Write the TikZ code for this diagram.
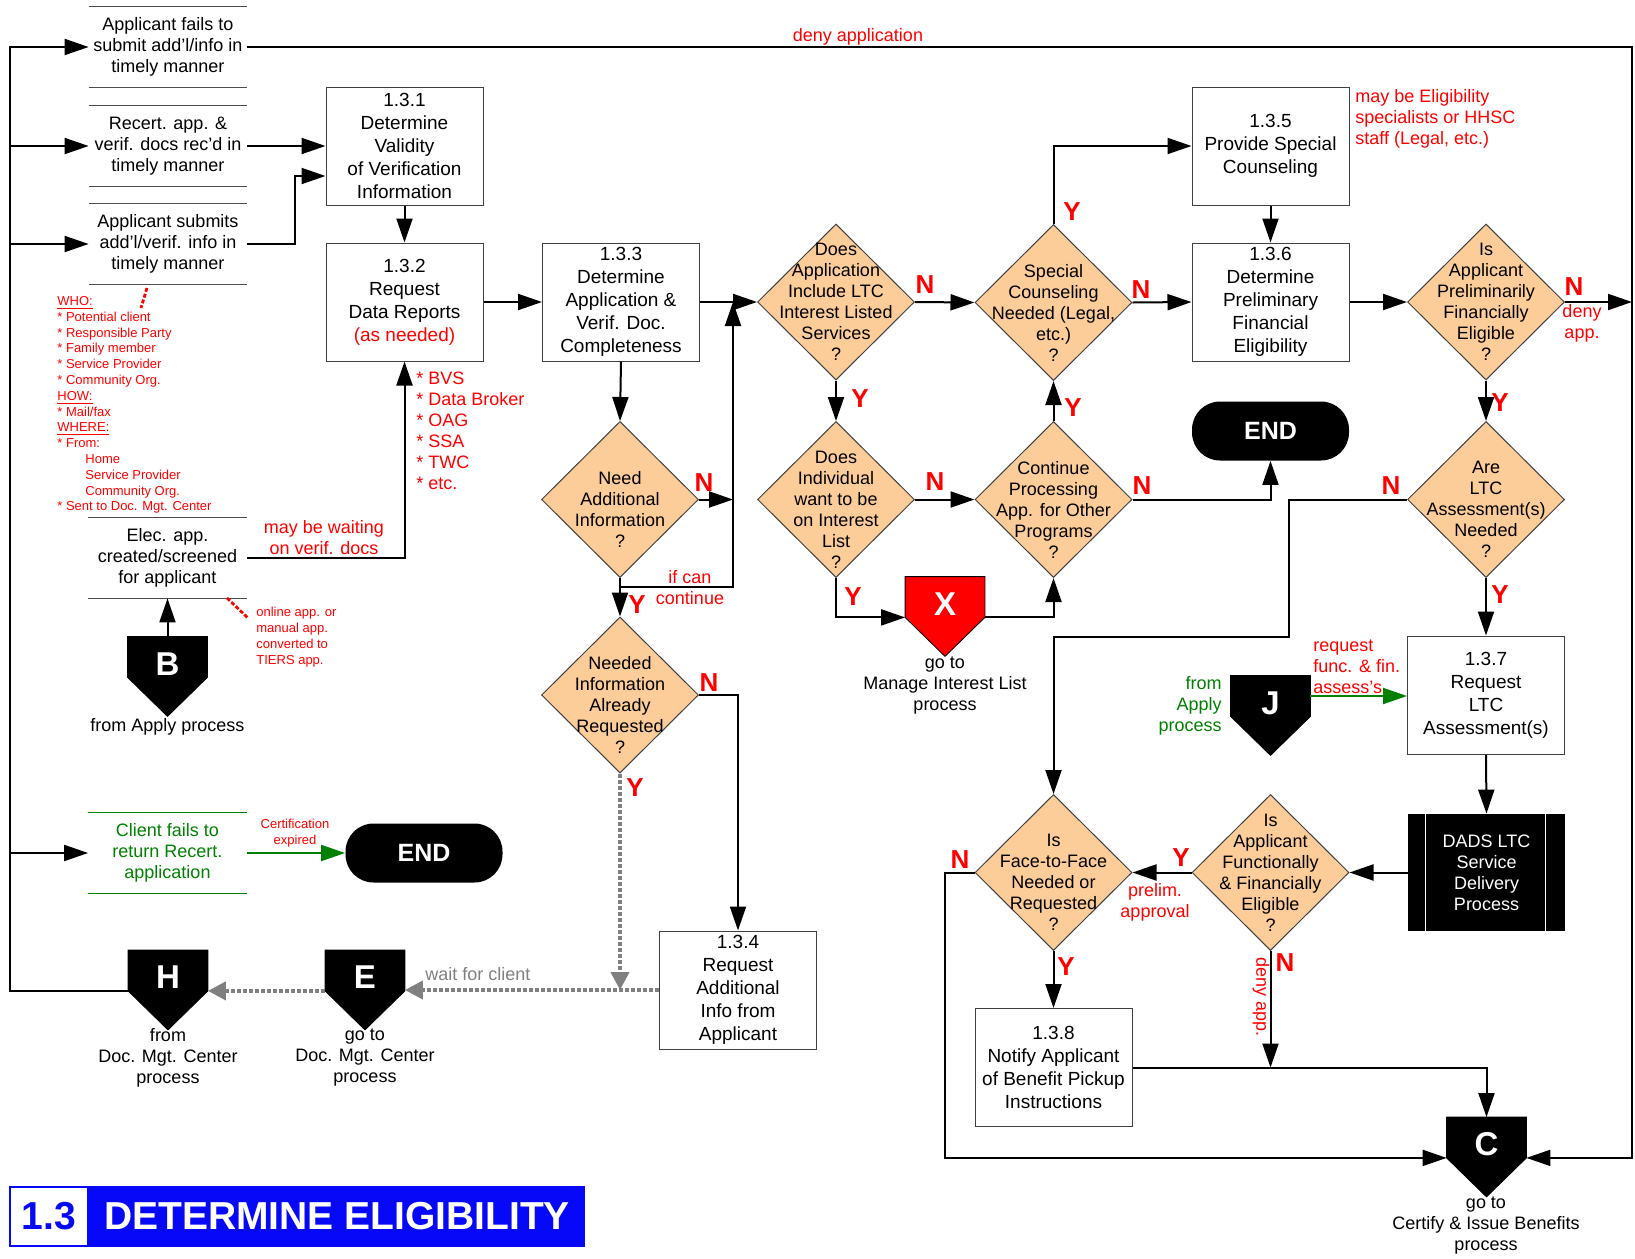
\documentclass[tikz,border=0pt]{standalone}
\usepackage{fontspec}
\setmainfont{Liberation Sans}
\usepackage{xcolor}
\usepackage{tikz}
\usetikzlibrary{arrows.meta,positioning,calc,shapes.geometric}
\definecolor{peach}{RGB}{252,204,153}
\definecolor{okgreen}{RGB}{0,128,0}
\definecolor{titleblue}{RGB}{8,8,248}
\tikzset{
  txt/.style={font=\fontsize{9}{10.5}\selectfont, align=center, inner sep=0pt},
  procbox/.style={rectangle, draw=black!75, line width=0.5pt, fill=white, align=center, inner sep=0pt,
    font=\fontsize{9.5}{11.5}\selectfont, minimum width=78.5pt, minimum height=59pt},
  question/.style={diamond, draw=black!75, line width=0.5pt, fill=peach, inner sep=0pt,
    minimum width=78.5pt, minimum height=78pt},
  decision/.style={question, label={[txt]center:{#1}}},
  decisionlow/.style={question, label={[txt, yshift=-5pt]center:{#1}}},
  event/.style={txt, minimum width=79pt, minimum height=40pt},
  hrule/.style={line width=0.6pt, draw=black!70},
  terminal/.style={rectangle, rounded corners=14pt, fill=black, text=white, inner sep=0pt,
    font=\fontsize{12.5}{14}\selectfont\bfseries, minimum width=78.5pt, minimum height=29.5pt},
  dadsbox/.style={txt, fill=black, text=white, minimum width=78.5pt, minimum height=58.5pt},
  offpage/.style={rectangle, inner sep=0pt, minimum width=39.5pt, minimum height=20pt},
  offletter/.style={inner sep=0pt, text=white, font=\fontsize{16.5}{18}\selectfont\bfseries},
  flow/.style={line width=1pt, -{Triangle[length=12pt,width=8pt]}},
  waitflow/.style={draw=gray, line width=2pt, dash pattern=on 2pt off 1pt, -{Triangle[length=9pt,width=9pt]}},
  yn/.style={text=red, font=\fontsize{13}{15}\selectfont\bfseries, inner sep=0pt},
  note/.style={txt, text=red},
  smallred/.style={text=red, font=\fontsize{6.5}{7.9}\selectfont, align=left, inner sep=0pt},
  titlenum/.style={rectangle, draw=titleblue, line width=1pt, fill=white, text=titleblue, inner sep=0pt,
    font=\fontsize{19.5}{22}\selectfont\bfseries, minimum width=39pt, minimum height=29.5pt},
  titlebar/.style={rectangle, draw=titleblue, line width=1pt, fill=titleblue, text=white, inner sep=0pt,
    font=\fontsize{19.5}{22}\selectfont\bfseries, minimum width=247pt, minimum height=29.5pt},
}
% off-page connector: name, x, y, letter, fill colour, outline colour
\newcommand{\offpage}[6]{%
  \node[offpage] (#1) at (#2,#3) {};
  \filldraw[fill=#5, draw=#6, line width=0.4pt] (#1.north west) -- (#1.north east) -- (#1.south east)
    -- ($(#1.south)+(0,39)$) -- (#1.south west) -- cycle;
  \node[offletter, yshift=-3.5pt] (#1txt) at (#1) {#4};
}

\begin{document}
\begin{tikzpicture}[x=0.5pt,y=-0.5pt]
\useasboundingbox (0,0) rectangle (1635,1259);

% events on the left
\node[event] (ev1) at (168,47) {Applicant fails to\\submit add'l/info in\\timely manner};
\node[event] (ev2) at (168,146) {Recert. app. \&\\verif. docs rec'd in\\timely manner};
\node[event] (ev3) at (168,244) {Applicant submits\\add'l/verif. info in\\timely manner};
\node[event] (ev4) at (167.5,558) {Elec. app.\\created/screened\\for applicant};
\node[event, text=okgreen] (ev5) at (167.5,853) {Client fails to\\return Recert.\\application};
\foreach \n in {ev1,ev2,ev3,ev4}
  \draw[hrule] (\n.north west) -- (\n.north east) (\n.south west) -- (\n.south east);
\draw[hrule, draw=okgreen] (ev5.north west) -- (ev5.north east) (ev5.south west) -- (ev5.south east);

% process boxes
\node[procbox] (b131) at (404.5,146) {1.3.1\\Determine\\Validity\\of Verification\\Information};
\node[procbox] (b132) at (404.5,302) {1.3.2\\Request\\Data Reports\\\textcolor{red}{(as needed)}};
\node[procbox] (b133) at (621,302) {1.3.3\\Determine\\Application \&\\Verif. Doc.\\Completeness};
\node[procbox] (b134) at (738,990) {1.3.4\\Request\\Additional\\Info from\\Applicant};
\node[procbox] (b135) at (1270.5,146) {1.3.5\\Provide Special\\Counseling};
\node[procbox] (b136) at (1270.5,302) {1.3.6\\Determine\\Preliminary\\Financial\\Eligibility};
\node[procbox] (b137) at (1486,695) {1.3.7\\Request\\LTC\\Assessment(s)};
\node[procbox] (b138) at (1053.5,1067.5) {1.3.8\\Notify Applicant\\of Benefit Pickup\\Instructions};

% decisions
\node[decisionlow={Need\\Additional\\Information\\?}] (qinfo) at (620,499.5) {};
\node[decisionlow={Needed\\Information\\Already\\Requested\\?}] (qreq) at (620,695) {};
\node[decision={Does\\Application\\Include LTC\\Interest Listed\\Services\\?}] (qltc) at (836,302) {};
\node[decisionlow={Does\\Individual\\want to be\\on Interest\\List\\?}] (qlist) at (836,499.5) {};
\node[decisionlow={Special\\Counseling\\Needed (Legal,\\etc.)\\?}] (qcoun) at (1053.5,302.5) {};
\node[decisionlow={Continue\\Processing\\App. for Other\\Programs\\?}] (qcont) at (1053.5,499.5) {};
\node[decision={Is\\Applicant\\Preliminarily\\Financially\\Eligible\\?}] (qprel) at (1486,302) {};
\node[decisionlow={Are\\LTC\\Assessment(s)\\Needed\\?}] (qass) at (1486,499.5) {};
\node[decisionlow={Is\\Face-to-Face\\Needed or\\Requested\\?}] (qf2f) at (1053.5,872.5) {};
\node[decision={Is\\Applicant\\Functionally\\\& Financially\\Eligible\\?}] (qfunc) at (1270.5,872.5) {};

% terminals and delivery box
\node[terminal] (endL) at (424,853) {END};
\node[terminal] (endR) at (1270.5,431) {END};
\node[dadsbox] (dads) at (1486.5,872.5) {DADS LTC\\Service\\Delivery\\Process};
\draw[white, line width=0.8pt] ([xshift=9pt]dads.north west) -- ([xshift=9pt]dads.south west)
  ([xshift=-10pt]dads.north east) -- ([xshift=-10pt]dads.south east);

% off-page connectors
\offpage{B}{167.5}{657}{B}{black}{black}
\offpage{H}{168}{970.5}{H}{black}{black}
\offpage{E}{365}{970.5}{E}{black}{black}
\offpage{X}{945}{597}{X}{red}{black}
\offpage{J}{1270.5}{696}{J}{black}{black}
\offpage{C}{1486.5}{1137.5}{C}{black}{black}
\node[txt] (capB) at (167.5,727) {from Apply process};
\node[txt] (capH) at (168,1058) {from\\Doc. Mgt. Center\\process};
\node[txt] (capE) at (365,1058) {go to\\Doc. Mgt. Center\\process};
\node[txt] (capX) at (945,686) {go to\\Manage Interest List\\process};
\node[txt, text=okgreen, align=right, anchor=east] (capJ) at (1222,706) {from\\Apply\\process};
\node[txt] (capC) at (1486,1226) {go to\\Certify \& Issue Benefits\\process};

% notes
\node[note] (denyall) at (858,37) {deny application};
\node[note] (waitnote) at (324,538) {may be waiting\\on verif. docs};
\node[note, align=left, anchor=north west] (srcnote) at (416,372) {* BVS\\* Data Broker\\* OAG\\* SSA\\* TWC\\* etc.};
\node[note, align=left, anchor=north west] (staffnote) at (1355,89) {may be Eligibility\\specialists or HHSC\\staff (Legal, etc.)};
\node[note] (denynote) at (1582,323) {deny\\app.};
\node[note, align=left, anchor=west] (reqnote) at (1313,667) {request\\func. \& fin.\\assess's};
\node[note] (prelimnote) at (1155,902) {prelim.\\approval};
\node[note, rotate=-90] (denynote2) at (1261,997) {deny app.};
\node[note] (contnote) at (690,588) {if can\\continue};
\node[txt, text=gray] (waitclient) at (478,974) {wait for client};
\node[smallred, align=center] (certnote) at (295,833) {Certification\\expired};
\node[smallred, anchor=north west] (who) at (57,296) {\underline{WHO:}\\* Potential client\\* Responsible Party\\* Family member\\* Service Provider\\* Community Org.\\\underline{HOW:}\\* Mail/fax\\\underline{WHERE:}\\* From:\\\hspace*{14pt}Home\\\hspace*{14pt}Service Provider\\\hspace*{14pt}Community Org.\\* Sent to Doc. Mgt. Center};
\node[smallred, anchor=north west] (online) at (256,607) {online app. or\\manual app.\\converted to\\TIERS app.};
\draw[red, line width=1.4pt, dash pattern=on 2pt off 1pt] (147,288) -- (141,308);
\draw[red, line width=1.4pt, dash pattern=on 2pt off 1pt] (227,598) -- (248,618);

% Y / N marks
\foreach \x/\y/\t [count=\i] in {704/483/N, 637/605/Y, 709/683/N, 635/788/Y, 925/285/N, 860/399/Y,
    935/482/N, 853/597/Y, 1141/290/N, 1072/212/Y, 1073/408/Y, 1142/486/N, 1574/287/N, 1500/403/Y,
    1391/486/N, 1500/595/Y, 1181/858/Y, 1285/963/N, 960/860/N, 1066/967/Y}
  \node[yn] (yn\i) at (\x,\y) {\t};

% connectors
\coordinate (railL) at (10,47);
\coordinate (railR) at (1632,47);
\coordinate (cont) at (733,587);
\draw[flow] (H.south west) -| (railL) -- (ev1.west);
\foreach \n in {ev2,ev3,ev5}
  \draw[flow] (\n.west -| railL) -- (\n.west);
\draw[flow] (ev1.east) -- (railR) |- (C.south east);
\draw[flow] (ev2.east) -- (b131.west);
\draw[flow] (ev3.east) -- ++(48,0) |- ([yshift=-15pt]b131.west);
\draw[flow] (b131.south) -- (b132.north);
\draw[flow] (ev4.east) -| (b132.south);
\draw[flow] (B.north) -- (ev4.south);
\draw[flow] (b132.east) -- (b133.west);
\draw[flow] (b133.east) -- (qltc.west);
\draw[flow] (b133.south) -- (qinfo.north);
\draw[flow] (qinfo.east) -- (qinfo.east -| cont);
\draw[flow] (qinfo.south |- cont) -- (cont) -- (cont |- qltc.west);
\draw[flow] (qinfo.south) -- (qreq.north);
\draw[flow] (qreq.east) -| (b134.north);
\draw[waitflow] (qreq.south) -- (qreq.south |- b134.west);
\draw[waitflow] (b134.west) -- (b134.west -| E.south east);
\draw[waitflow] (E.south west) -- (H.south east);
\draw[flow] (qltc.south) -- (qlist.north);
\draw[flow] (qltc.east) -- (qcoun.west);
\draw[flow] (qlist.east) -- (qcont.west);
\draw[flow] (qlist.south) |- (X.south west);
\draw[flow] (X.south east) -| (qcont.south);
\draw[flow] (qcont.north) -- (qcoun.south);
\draw[flow] (qcont.east) -| (endR.south);
\draw[flow] (qcoun.north) |- (b135.west);
\draw[flow] (qcoun.east) -- (b136.west);
\draw[flow] (b135.south) -- (b136.north);
\draw[flow] (b136.east) -- (qprel.west);
\draw[flow] (qprel.east) -- (qprel.east -| railR);
\draw[flow] (qprel.south) -- (qass.north);
\draw[flow] (qass.south) -- (b137.north);
\draw[flow] (qass.west) -| (1289,637) -| (qf2f.north);
\draw[flow, okgreen] (J.east) -- (J.east -| b137.west);
\draw[flow] (b137.south) -- (dads.north);
\draw[flow] (dads.west) -- (qfunc.east);
\draw[flow] (qfunc.west) -- (qf2f.east);
\draw[flow] (qf2f.south) -- (b138.north);
\draw[flow] (qfunc.south) -- (qfunc.south |- b138.east);
\draw[flow] (b138.east) -| (C.north);
\draw[flow] (qf2f.west) -- ++(-30,0) |- (C.south west);
\draw[flow, okgreen] (ev5.east) -- (endL.west);

% title
\node[titlenum] (tnum) at (49,1216.5) {1.3};
\node[titlebar, right=0pt of tnum] (tbar) {DETERMINE ELIGIBILITY};
\end{tikzpicture}
\end{document}
